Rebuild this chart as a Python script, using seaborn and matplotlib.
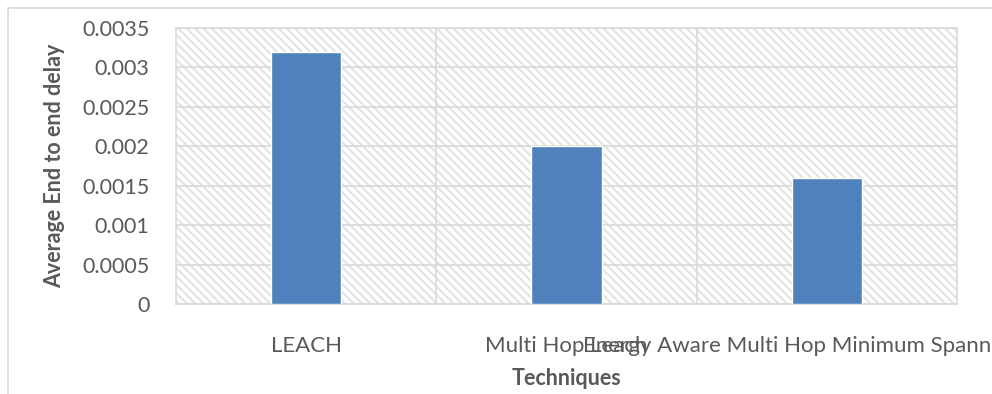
import matplotlib
matplotlib.use("Agg")
import matplotlib.pyplot as plt
from matplotlib.patches import Rectangle
import seaborn as sns
import pandas as pd

# Data
techniques = [
    "LEACH",
    "Multi Hop Leach",
    "Energy Aware Multi Hop Minimum Spanning Tree",
]
delays = [0.0032, 0.002, 0.0016]
yticks = [0, 0.0005, 0.001, 0.0015, 0.002, 0.0025, 0.003, 0.0035]
ytick_labels = ["0", "0.0005", "0.001", "0.0015", "0.002", "0.0025", "0.003", "0.0035"]

sns.set_theme(style="white")
plt.rcParams["font.family"] = ["Lato", "DejaVu Sans"]
plt.rcParams["hatch.linewidth"] = 1.5

df = pd.DataFrame({"Techniques": techniques, "Delay": delays})

W, H = 992, 394
fig = plt.figure(figsize=(W / 100, H / 100), dpi=100)

# outer chart frame
fig.patches.append(Rectangle((8 / W, -0.5), 2.0, (H - 8) / H + 0.5,
                             transform=fig.transFigure, fill=False,
                             edgecolor="#D9D9D9", linewidth=1.2, zorder=0))

ax = fig.add_axes([176 / W, (H - 304) / H, (957 - 176) / W, (304 - 28) / H])

# hatched plot-area background (diagonal stripes, top-left to bottom-right)
BACKSLASH = chr(92)
ax.add_patch(Rectangle((0, 0), 1, 1, transform=ax.transAxes, facecolor="white",
                       hatch=BACKSLASH * 4, edgecolor="#E3E3E3", linewidth=0, zorder=0))

sns.barplot(data=df, x="Techniques", y="Delay", color="#4F81BD", saturation=1,
            width=0.27, ax=ax, zorder=3)

ax.set_ylim(0, 0.0035)
ax.set_xlim(-0.5, 2.5)
ax.set_yticks(yticks)
ax.set_yticklabels(ytick_labels)
ax.set_xticks([0.5, 1.5], minor=True)

ax.grid(True, axis="y", which="major", color="#D9D9D9", linewidth=1.2, zorder=1)
ax.grid(True, axis="x", which="minor", color="#D9D9D9", linewidth=1.2, zorder=1)
ax.grid(False, axis="x", which="major")
ax.set_axisbelow(True)

for s in ax.spines.values():
    s.set_color("#D9D9D9")
    s.set_linewidth(1.2)

ax.tick_params(axis="y", which="both", length=0, pad=19, labelsize=15.5, labelcolor="#595959")
ax.tick_params(axis="x", which="both", length=0, pad=23, labelsize=16, labelcolor="#595959")

ax.set_xlabel("Techniques", fontsize=15.5, fontweight="bold", color="#595959", labelpad=9)
ax.set_ylabel("Average End to end delay", fontsize=15.5, fontweight="bold", color="#595959", labelpad=12)

fig.savefig("out.png", dpi=100)
